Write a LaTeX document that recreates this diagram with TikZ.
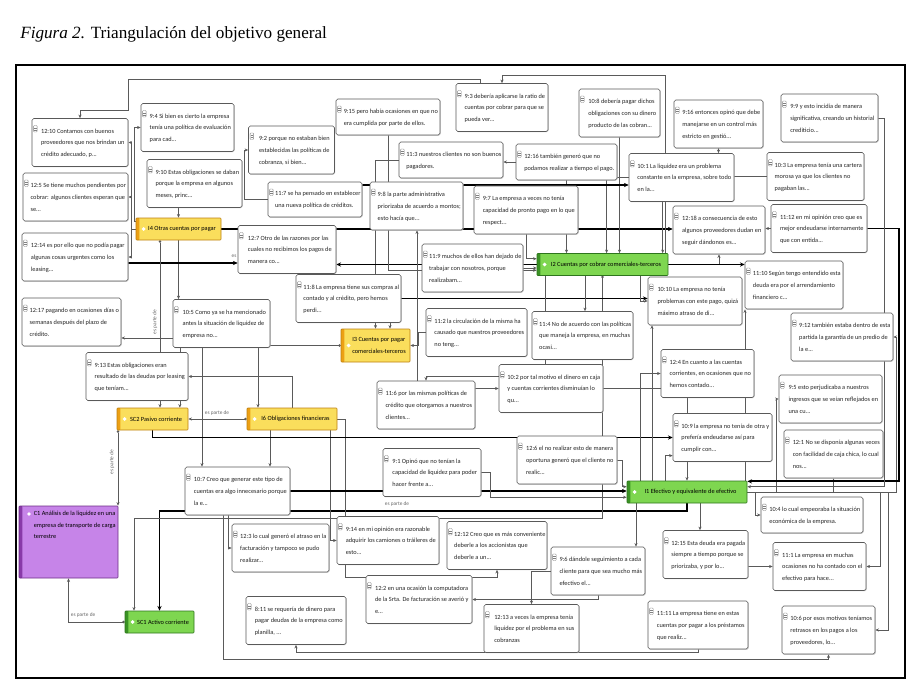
\documentclass[tikz,border=0pt]{standalone}
\usepackage{fontspec}
\setmainfont{Carlito}
\newfontfamily\titlefont{Liberation Serif}
\usepackage{tikz}
\usetikzlibrary{arrows.meta, shadows}

\definecolor{yelfill}{RGB}{250,222,92}
\definecolor{yelbar}{RGB}{236,160,20}
\definecolor{grnfill}{RGB}{126,214,80}
\definecolor{grnbar}{RGB}{58,146,36}
\definecolor{purfill}{RGB}{198,132,232}
\definecolor{purbar}{RGB}{136,58,168}
\definecolor{linkgray}{RGB}{90,90,90}

\newcommand{\qtfont}{\fontsize{4.5}{8.4}\selectfont}
\newcommand{\cdfont}{\fontsize{4.5}{8.4}\selectfont}
\newcommand{\qtx}[1]{\begin{tabular}{@{\hspace{4pt}}l@{}}#1\end{tabular}}

\pgfdeclarelayer{bg}
\pgfsetlayers{bg,main}

\begin{document}
\begin{tikzpicture}[x=0.025cm, y=-0.025cm,
    bw/.style={minimum width=#1*0.025cm},
    bh/.style={minimum height=#1*0.025cm},
    qt/.style={draw=gray!70!black, fill=white, rounded corners=1.2pt,
        font=\qtfont, text=black!85, minimum height=1.2cm, inner xsep=1pt,
        drop shadow={shadow xshift=0.5pt, shadow yshift=-0.5pt, fill=gray!60, opacity=0.8},
        path picture={\draw[gray, line width=0.3pt, rounded corners=0.6pt]
            ([xshift=1.1pt,yshift=-5pt]path picture bounding box.north west) rectangle ++(2.6pt,-4.6pt);
            \draw[gray, line width=0.25pt]
            ([xshift=1.6pt,yshift=-6.8pt]path picture bounding box.north west) -- ++(1.6pt,0)
            ([xshift=1.6pt,yshift=-8pt]path picture bounding box.north west) -- ++(1.6pt,0);}},
    code/.style={fill=#1fill, draw=#1bar!80!black, rounded corners=0.6pt, align=left,
        font=\cdfont, minimum height=0.55cm, inner xsep=3pt,
        path picture={\fill[#1bar] (path picture bounding box.north west) rectangle
            ([xshift=2.4pt]path picture bounding box.south west);
            \fill[white] ([xshift=5.4pt]path picture bounding box.west) circle (1.4pt);}},
    cdtxt/.style={font=\cdfont, align=left, inner sep=0pt},
    link/.style={draw=linkgray, line width=0.45pt, -{Stealth[length=2.6pt, width=2.2pt]}},
    strong/.style={draw=black, line width=1.3pt, -{Stealth[length=3.4pt, width=3pt]}},
    part/.style={link, {Circle[length=1.8pt]}-{Stealth[length=2.6pt, width=2.2pt]}},
    lbl/.style={font=\fontsize{3.8}{4}\selectfont, text=gray!80!black, inner sep=0.5pt}]

\useasboundingbox (0,0) rectangle (924,696);

% title and frame
\node[anchor=base west, inner sep=0, font=\titlefont\fontsize{12.2}{14}\selectfont] (title) at (20,39)
    {\textit{Figura 2.} Triangulación del objetivo general};
\draw[line width=0.9pt] (16,65) rectangle (905,678);

% codes
\node[code=pur, bw=99, bh=72,
    label={[cdtxt, anchor=north west, xshift=0.37cm, yshift=-0.12cm]north west:{C1 Análisis de la liquidez en una\\empresa de transporte de carga\\terrestre}},
    path picture={\fill[purbar] (path picture bounding box.north west) rectangle
        ([xshift=2.4pt]path picture bounding box.south west);
        \fill[white] ([xshift=0.25cm,yshift=-0.2cm]path picture bounding box.north west) circle (1.4pt);}]
    (C1) at (68.5,542) {};
\node[code=grn, bw=69] (SC1) at (159.5,622) {\hspace{5pt}SC1 Activo corriente};
\node[code=yel, bw=71] (SC2) at (152.5,419) {\hspace{5pt}SC2 Pasivo corriente};
\node[code=yel, bw=90] (I6) at (292,419) {\hspace{5pt}I6 Obligaciones financieras};
\node[code=yel, bw=85] (I4) at (178.5,229) {\hspace{5pt}I4 Otras cuentas por pagar};
\node[code=yel, bw=69, bh=33] (I3) at (375.5,345.5) {\hspace{5pt}I3 Cuentas por pagar\\\hspace{5pt}comerciales-terceros};
\node[code=grn, bw=131] (I2) at (602.5,264.5) {\hspace{5pt}I2 Cuentas por cobrar comerciales-terceros};
\node[code=grn, bw=120] (I1) at (687,492) {\hspace{5pt}I1 Efectivo y equivalente de efectivo};

% quotations, left side
\node[qt, bw=96] (q1210) at (80,142.5) {\qtx{12:10 Contamos con buenos\\proveedores que nos brindan un\\crédito adecuado, p...}};
\node[qt, bw=105] (q125) at (75.5,197) {\qtx{12:5 Se tiene muchos pendientes por\\cobrar: algunos clientes esperan que\\se...}};
\node[qt, bw=106] (q1214) at (75,257) {\qtx{12:14 es por ello que no podía pagar\\algunas cosas urgentes como los\\leasing...}};
\node[qt, bw=99] (q1217) at (71.5,322) {\qtx{12:17 pagando en ocasiones días o\\semanas después del plazo de\\crédito.}};
\node[qt, bw=102] (q913) at (137,376.5) {\qtx{9:13 Estas obligaciones eran\\resultado de las deudas por leasing\\que teníam...}};
\node[qt, bw=97] (q105) at (221.5,323.5) {\qtx{10:5 Como ya se ha mencionado\\antes la situación de liquidez de\\empresa no...}};
\node[qt, bw=105] (q107) at (237.5,491) {\qtx{10:7 Creo que generar este tipo de\\cuentas era algo innecesario porque\\la e...}};
\node[qt, bw=97] (q123) at (280.5,548) {\qtx{12:3 lo cual generó el atraso en la\\facturación y tampoco se pudo\\realizar...}};
\node[qt, bw=100] (q811) at (296,620.5) {\qtx{8:11 se requería de dinero para\\pagar deudas de la empresa como\\planilla, ...}};
\node[qt, bw=93] (q94) at (187.5,127.5) {\qtx{9:4 Si bien es cierto la empresa\\tenía una política de evaluación\\para cad...}};
\node[qt, bw=95] (q910) at (194.5,183.5) {\qtx{9:10 Estas obligaciones se daban\\porque la empresa en algunos\\meses, princ...}};
\node[qt, bw=86] (q92) at (291.5,150) {\qtx{9:2 porque no estaban bien\\establecidas las políticas de\\cobranza, si bien...}};
\node[qt, bw=94, bh=35] (q117) at (315,199.5) {\qtx{11:7 se ha pensado en establecer\\una nueva política de créditos.}};
\node[qt, bw=98] (q127) at (287,249.5) {\qtx{12:7 Otro de las razones por las\\cuales no recibimos los pagos de\\manera co...}};

% quotations, middle
\node[qt, bw=104, bh=36] (q915) at (388,117) {\qtx{9:15 pero había ocasiones en que no\\era cumplida por parte de ellos.}};
\node[qt, bw=92] (q93) at (502,107.5) {\qtx{9:3 debería aplicarse la ratio de\\cuentas por cobrar para que se\\pueda ver...}};
\node[qt, bw=81] (q108) at (619.5,113) {\qtx{10:8 debería pagar dichos\\obligaciones con su dinero\\producto de las cobran...}};
\node[qt, bw=104, bh=36] (q113) at (451,160) {\qtx{11:3 nuestros clientes no son buenos\\pagadores.}};
\node[qt, bw=101, bh=36] (q1216) at (566.5,162) {\qtx{12:16 también generó que no\\podamos realizar a tiempo el pago.}};
\node[qt, bw=93] (q98) at (416.5,206) {\qtx{9:8 la parte administrativa\\priorizaba de acuerdo a montos;\\esto hacía que...}};
\node[qt, bw=104] (q97) at (526,210) {\qtx{9:7 La empresa a veces no tenía\\capacidad de pronto pago en lo que\\respect...}};
\node[qt, bw=101] (q119) at (472.5,268) {\qtx{11:9 muchos de ellos han dejado de\\trabajar con nosotros, porque\\realizabam...}};
\node[qt, bw=105] (q118) at (348.5,298.5) {\qtx{11:8 La empresa tiene sus compras al\\contado y al crédito, pero hemos\\perdi...}};
\node[qt, bw=101] (q112) at (476.5,332.5) {\qtx{11:2 la circulación de la misma ha\\causado que nuestros proveedores\\no teng...}};
\node[qt, bw=101] (q114) at (582.5,335.5) {\qtx{11:4 No de acuerdo con las políticas\\que maneja la empresa, en muchas\\ocasi...}};
\node[qt, bw=104] (q102) at (551,388.5) {\qtx{10:2 por tal motivo el dinero en caja\\y cuentas corrientes disminuían lo\\qu...}};
\node[qt, bw=98] (q116) at (426,405) {\qtx{11:6 por las mismas políticas de\\crédito que otorgamos a nuestros\\clientes...}};
\node[qt, bw=100] (q126) at (567,460) {\qtx{12:6 el no realizar esto de manera\\oportuna generó que el cliente no\\realic...}};
\node[qt, bw=98] (q91) at (432,472.5) {\qtx{9:1 Opinó que no tenían la\\capacidad de liquidez para poder\\hacer frente a...}};
\node[qt, bw=102] (q914) at (388,540.5) {\qtx{9:14 en mi opinión era razonable\\adquirir los camiones o tráileres de\\esto...}};
\node[qt, bw=100] (q1212) at (497,545.5) {\qtx{12:12 Creo que es más conveniente\\deberle a los accionistas que\\deberle a un...}};
\node[qt, bw=106] (q122) at (419,599.5) {\qtx{12:2 en una ocasión la computadora\\de la Srta. De facturación se averió y\\e...}};
\node[qt, bw=95] (q1213) at (531.5,628.5) {\qtx{12:13 a veces la empresa tenía\\liquidez por el problema en sus\\cobranzas}};
\node[qt, bw=94] (q96) at (598,571) {\qtx{9:6 dándole seguimiento a cada\\cliente para que sea mucho más\\efectivo el...}};

% quotations, right side
\node[qt, bw=89] (q916) at (718.5,124) {\qtx{9:16 entonces opinó que debe\\manejarse en un control más\\estricto en gestió...}};
\node[qt, bw=97] (q99) at (829.5,118) {\qtx{9:9 y esto incidía de manera\\significativa, creando un historial\\crediticio...}};
\node[qt, bw=105] (q101) at (681.5,177.5) {\qtx{10:1 La liquidez era un problema\\constante en la empresa, sobre todo\\en la...}};
\node[qt, bw=97] (q103) at (815.5,176.5) {\qtx{10:3 La empresa tenía una cartera\\morosa ya que los clientes no\\pagaban las...}};
\node[qt, bw=92] (q1218) at (719,230) {\qtx{12:18 a consecuencia de esto\\algunos proveedores dudan en\\seguir dándonos es...}};
\node[qt, bw=96] (q1112) at (819,228.5) {\qtx{11:12 en mi opinión creo que es\\mejor endeudarse internamente\\que con entida...}};
\node[qt, bw=98] (q1110) at (794,285) {\qtx{11:10 Según tengo entendido esta\\deuda era por el arrendamiento\\financiero c...}};
\node[qt, bw=94] (q1010) at (695,301) {\qtx{10:10 La empresa no tenía\\problemas con este pago, quizá\\máximo atraso de di...}};
\node[qt, bw=102] (q912) at (842,337) {\qtx{9:12 también estaba dentro de esta\\partida la garantía de un predio de\\la e...}};
\node[qt, bw=93] (q124) at (707.5,373.5) {\qtx{12:4 En cuanto a las cuentas\\corrientes, en ocasiones que no\\hemos contado...}};
\node[qt, bw=103] (q95) at (830.5,399) {\qtx{9:5 esto perjudicaba a nuestros\\ingresos que se veían reflejados en\\una cu...}};
\node[qt, bw=99] (q109) at (722.5,437.5) {\qtx{10:9 la empresa no tenía de otra y\\prefería endeudarse así para\\cumplir con...}};
\node[qt, bw=99] (q121) at (833.5,454) {\qtx{12:1 No se disponía algunas veces\\con facilidad de caja chica, lo cual\\nos...}};
\node[qt, bw=102, bh=36] (q104) at (812,515) {\qtx{10:4 lo cual empeoraba la situación\\económica de la empresa.}};
\node[qt, bw=85] (q1215) at (705.5,554.5) {\qtx{12:15 Esta deuda era pagada\\siempre a tiempo porque se\\priorizaba, y por lo...}};
\node[qt, bw=93] (q111) at (819.5,566.5) {\qtx{11:1 La empresa en muchas\\ocasiones no ha contado con el\\efectivo para hace...}};
\node[qt, bw=100] (q1111) at (698,625) {\qtx{11:11 La empresa tiene en estas\\cuentas por pagar a los préstamos\\que realiz...}};
\node[qt, bw=93] (q106) at (828.5,630) {\qtx{10:6 por esos motivos teníamos\\retrasos en los pagos a los\\proveedores, lo...}};

\coordinate (spineL) at (131,80);
\coordinate (spineM) at (134,80);
\coordinate (gapA) at (244,0);

\begin{pgfonlayer}{bg}
% I4 links
\draw[link] (I4.west) -- (spineL |- I4.west) |- (q1210.east);
\draw[link] (I4.west) -- (spineL |- I4.west) |- (q125.east);
\draw[link] (I4.west) -- (spineL |- I4.west) |- (q1214.east);
\draw[link] (I4.170) -- (spineM |- I4.170) |- (q94.west);
\draw[link] (I4.north |- q910.south) -- (I4.north);
\draw[link] (I4.south) -- (I4.south |- q105.north);
\draw[strong] (I4.east) -- (q1218.west |- I4.east);
\draw[strong] (q1214.east |- 0,263) -- (q127.west |- 0,263);
\draw[link] (q117.west) -- (gapA |- q117.west) |- (q92.west);
\draw[link] (480,0 |- q93.north) -- (480,79) -- (128,79) -- (128,110) -| (q1210.north);
% parts
\draw[part] (160,0 |- I4.south) -- (160,0 |- SC2.north);
\draw[part] (I6.west) -- (SC2.east);
\draw[part] (118,0 |- SC2.south) -- (118,0 |- C1.north);
\draw[part] (SC1.west) -| (C1.south);
\draw[part] (I3.west) -| ([xshift=-6pt]SC2.north east);
\draw[part, strong] (I1.south) -- (I1.south |- 0,511) -| (SC1.north);
\draw[part] (I2.south) -- (I2.south |- 0,518) -| (134,0 |- SC1.north);
% I6 links
\draw[link] (258,0 |- q105.south) -- (258,0 |- I6.north);
\draw[link] (I6.north) |- (q913.east);
\draw[link] (270,0 |- I6.south) -- (270,0 |- q107.north);
\draw[link] (202,0 |- q105.south) -- (202,0 |- q107.north);
\draw[link] (q105.west |- 0,338) -- (q1217.east |- 0,338);
\draw[link] (330,0 |- I6.south) |- (q914.west);
\draw[link] (I6.east) -- (345,0 |- I6.east) -- (345,577) -| (q1212.south);
\draw[strong] (SC2.south) |- (q109.west);
% I3 links
\draw[link] (390,0 |- q118.south) -- (390,0 |- I3.north);
\draw[link] (q113.west) -| (I3.north);
\draw[link] (q112.west) -- (418,0 |- q112.west) |- (I3.east);
\draw[strong] (q118.east) -- (q1010.west |- q118.east);
% I2 links
\draw[strong] (I2.west) -- (q127.east |- I2.west);
\draw[link] (q119.east) -- (I2.west |- q119.east);
\draw[link] (q1216.west) -- (q113.east |- q1216.west);
\draw[link] (q915.south) |- (I2.185);
\draw[link] (q1216.south) -- (q1216.south |- I2.north);
\draw[link] (q108.south) -- (q108.south |- I2.north);
\draw[link] (q97.south) |- (I2.175);
\draw[link] (q101.west) -| (I2.70);
\draw[link] (q916.south) -- (q916.south |- q101.north);
\draw[link] (665,0 |- I2.north) -- (665,75) -| (q93.north);
\draw[link] (I2.east) -| (q1218.south);
\draw[strong] (I2.east) -- (q1110.west |- I2.east);
\draw[link] (q1112.west) -- (q1218.east |- q1112.west);
\draw[link] (q103.west) -| ([xshift=-4pt]I2.north east);
\draw[link] (585,0 |- I2.south) -- (585,0 |- q114.north);
\draw[link] (640,0 |- I2.south) |- (q1010.west);
\draw[link] (545,0 |- I2.south) -- (545,376) -| (q116.north);
\draw[link] (417,0 |- q116.north) -- (417,0 |- q98.south);
\draw[link] (q116.east |- q102.west) -- (q102.west);
\draw[strong] (q117.east |- 0,185) -- (q101.west |- 0,185);
% I1 links
\draw[strong] (q107.east) -- (I1.west |- q107.east);
\draw[link] (q126.east) -- (622,0 |- q126.east) |- (I1.175);
\draw[link] (q91.east) -- (490,0 |- q91.east) |- (I1.185);
\draw[link] (q102.east) -| (I1.north);
\draw[link] (652,0 |- I1.north) -- (652,0 |- q1010.south);
\draw[link] (640,0 |- I1.north) |- (q124.west);
\draw[link] (665,0 |- I1.north) |- (q109.200);
\draw[link] (745,0 |- I1.north) -- (745,0 |- q1110.south);
\draw[link] (I1.east) -- (755,0 |- I1.east) |- (q104.west);
\draw[link] (I1.east) -- (776,0 |- I1.east) |- (q95.west);
\draw[link] (I1.east) -| (q121.south);
\draw[link] (I1.east) -- (896,0 |- I1.east) |- (q912.east);
\draw[link] (I1.east) -- (880,0 |- I1.east) |- (q111.east);
\draw[link] (I1.east) -- (888,0 |- I1.east) |- (q106.east);
\draw[strong] (q1112.east) -- (899,0 |- q1112.east) |- (I1.10);
\draw[link] (q99.east) -- (884,0 |- q99.east) |- (I1.5);
\draw[link] (700,0 |- I1.south) -- (700,0 |- q1215.north);
\draw[link] (q1215.east |- q111.west) -- (q111.west);
\draw[link] (636,0 |- I1.south) -- (636,0 |- q96.north);
\draw[link] (q96.south) |- (q122.east);
\draw[link] (q96.west) -| (q1213.north);
\draw[link] (q1111.south) -- (q1111.south |- 0,652) -| (q811.south);
\draw[link] (223,0 |- q107.south) -- (223,659) -| (q106.south);
\draw[link] (228,0 |- q107.south) |- (q123.west);
\end{pgfonlayer}

% relation labels
\node[lbl, rotate=90] (pt1) at (155,322) {es parte de};
\node[lbl] (pt2) at (217,413) {es parte de};
\node[lbl, rotate=90] (pt3) at (112,462) {es parte de};
\node[lbl, anchor=south west] (pt4) at (70,618) {es parte de};
\node[lbl] (pt5) at (397,504) {es parte de};
\node[lbl] (pt6) at (234,256) {es};
\end{tikzpicture}
\end{document}
